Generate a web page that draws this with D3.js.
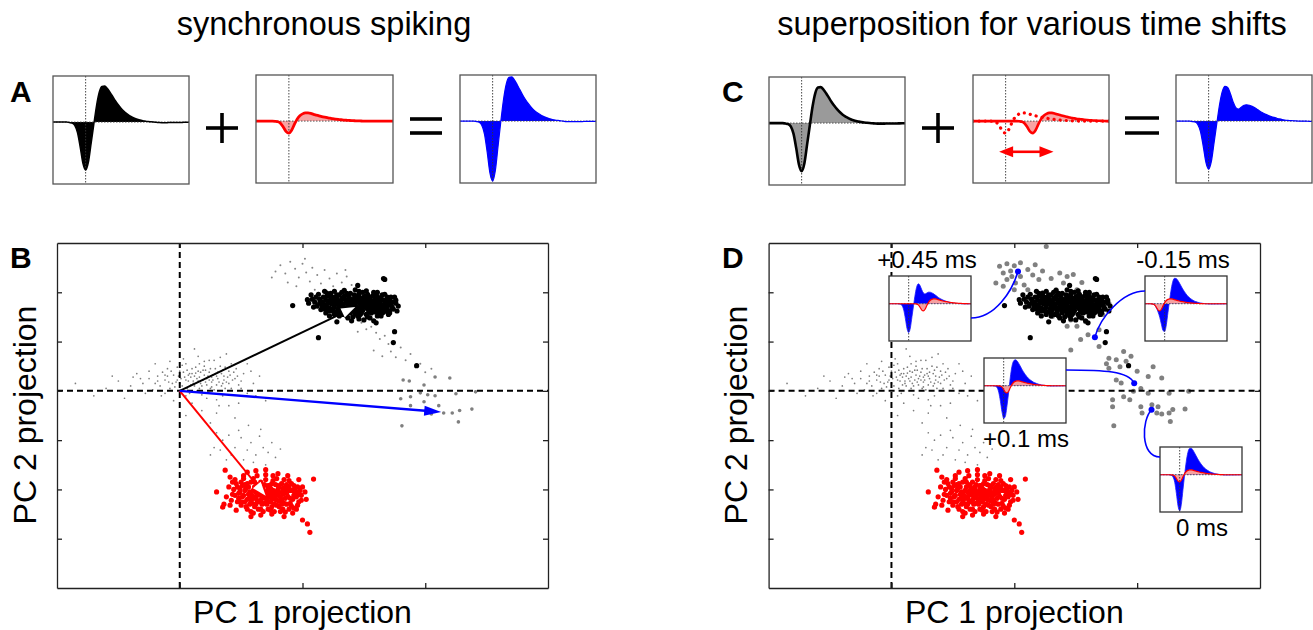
<!DOCTYPE html>
<html><head><meta charset="utf-8">
<script src="https://cdn.jsdelivr.net/npm/d3@7"></script>
<style>
body{margin:0;background:#fff}
svg{display:block}
text{font-family:"Liberation Sans",Arial,Helvetica,sans-serif;fill:#000}
</style>
</head><body>
<svg id="fig" width="1313" height="630"></svg>
<script>
// ---------------- DATA ----------------
// waveform sampling (ms)
const sampleStart = -0.6, sampleStep = 0.05;
// template of neuron 1 (black) and neuron 2 (red), normalised amplitude
const unitBlack = [0,0,0,0,0,0,-0.01,-0.02,-0.07,-0.22,-0.52,-0.86,-1.0,-0.84,-0.45,-0.05,0.34,0.62,0.74,0.75,0.70,0.62,0.53,0.44,0.36,0.29,0.23,0.18,0.14,0.11,0.08,0.06,0.045,0.03,0.02,0.012,0.006,0,-0.005,-0.01,-0.012,-0.012,-0.012,-0.01,-0.01,-0.01,-0.008,-0.008,-0.006,-0.005,-0.005];
const unitRed = [0,0,0,0,0,0,0,-0.005,-0.015,-0.05,-0.13,-0.22,-0.25,-0.19,-0.07,0.04,0.11,0.15,0.17,0.17,0.16,0.14,0.125,0.11,0.095,0.082,0.07,0.06,0.05,0.042,0.035,0.028,0.022,0.017,0.013,0.01,0.007,0.005,0.003,0,0,0,0,0,0,0,0,0,0,0,0];
const shiftC = 0.5;                 // ms, example shift in panel C
const shiftArrowC = [-0.12, 0.88];  // ms, extent of shift arrow
const insetShifts = [0.45, -0.15, 0.1, 0];
const insetLabels = ["+0.45 ms", "-0.15 ms", "+0.1 ms", "0 ms"];

// PCA projections (PC1, PC2)
const pcTicksX = [0, 1, 2];
const pcTicksY = [-3, -2, -1, 0, 1, 2];
const tipBlack = [1.43, 1.70];
const tipRed = [0.70, -2.13];
const blackCluster = [[1.10,1.80],[1.14,1.86],[1.18,1.75],[1.20,1.92],[1.22,1.68],[1.25,1.83],[1.27,1.60],[1.28,1.95],[1.30,1.72],[1.32,1.88],[1.33,1.55],[1.35,1.78],[1.36,1.98],[1.38,1.65],[1.40,1.85],[1.41,1.50],[1.43,1.74],[1.44,1.93],[1.46,1.62],[1.48,1.82],[1.49,2.00],[1.51,1.70],[1.52,1.55],[1.54,1.88],[1.55,1.76],[1.57,1.64],[1.58,1.95],[1.60,1.80],[1.61,1.52],[1.63,1.70],[1.64,1.88],[1.66,1.60],[1.67,1.78],[1.69,1.68],[1.70,1.85],[1.72,1.74],[1.15,1.65],[1.19,1.58],[1.23,1.98],[1.26,1.70],[1.29,1.80],[1.31,1.64],[1.34,1.92],[1.37,1.72],[1.39,1.58],[1.42,1.95],[1.45,1.68],[1.47,1.55],[1.50,1.90],[1.53,1.66],[1.56,1.82],[1.59,1.72],[1.62,1.60],[1.65,1.95],[1.68,1.72],[1.12,1.72],[1.17,1.90],[1.21,1.78],[1.24,1.62],[1.28,1.87],[1.32,1.76],[1.35,1.62],[1.38,1.90],[1.41,1.77],[1.44,1.60],[1.47,1.88],[1.50,1.76],[1.53,1.96],[1.56,1.58],[1.59,1.86],[1.62,1.76],[1.65,1.66],[1.68,1.82],[1.71,1.62],[1.08,1.86],[1.13,1.96],[1.16,1.80],[1.20,1.70],[1.23,1.87],[1.27,1.76],[1.30,1.95],[1.33,1.69],[1.36,1.84],[1.39,1.73],[1.42,1.64],[1.45,1.80],[1.48,1.70],[1.51,1.84],[1.54,1.72],[1.57,1.92],[1.60,1.66],[1.63,1.82],[1.66,1.74],[1.69,1.90],[1.73,1.80],[1.26,2.02],[1.34,2.04],[1.43,2.05],[1.52,2.03],[1.61,2.00],[1.30,1.52],[1.37,1.48],[1.46,1.46],[1.55,1.48],[1.64,1.52],[1.74,1.66],[1.76,1.78],[1.05,1.78],[1.07,1.95],[1.18,2.02],[1.22,1.52],[1.40,1.42],[1.50,1.44],[1.58,1.42],[1.70,1.55],[1.75,1.90],[0.92,1.73],[1.04,1.85],[1.13,1.08],[1.66,2.28],[1.74,0.98],[1.75,1.20],[1.60,1.38],[1.28,1.40],[1.45,2.14],[1.78,1.72],[1.67,2.26],[1.93,0.51],
[1.16,1.72],[1.19,1.84],[1.21,1.62],[1.24,1.76],[1.26,1.90],[1.29,1.66],[1.31,1.82],[1.33,1.74],[1.36,1.68],[1.37,1.94],[1.40,1.62],[1.42,1.86],[1.44,1.70],[1.46,1.95],[1.49,1.63],[1.50,1.80],[1.52,1.74],[1.55,1.90],[1.57,1.70],[1.59,1.60],[1.61,1.92],[1.63,1.64],[1.66,1.84],[1.68,1.62],[1.70,1.76],[1.72,1.90],[1.18,1.66],[1.23,1.93],[1.27,1.84],[1.30,1.58],[1.34,1.86],[1.38,1.80],[1.41,1.68],[1.43,1.56],[1.47,1.76],[1.51,1.92],[1.54,1.60],[1.58,1.78],[1.61,1.86],[1.64,1.74],[1.67,1.66],[1.71,1.84],[1.14,1.78],[1.22,1.82],[1.25,1.66],[1.35,1.56],[1.39,1.98],[1.48,1.58],[1.53,1.82],[1.56,1.68],[1.62,1.68],[1.65,1.58],[1.69,1.80],[1.73,1.70],[1.11,1.90],[1.09,1.70],[1.20,1.98],[1.32,2.00],[1.46,2.02],[1.58,2.00],[1.67,1.96],[1.76,1.84],[1.77,1.62],[1.26,1.55],[1.36,1.52],[1.45,1.52],[1.53,1.50],[1.63,1.56],[1.71,1.58],[1.42,1.80],[1.45,1.88],[1.38,1.86],[1.48,1.66],[1.55,1.64],[1.60,1.74]];
const redCluster = [[0.40,-1.95],[0.43,-2.10],[0.45,-1.80],[0.47,-2.25],[0.49,-1.98],[0.51,-2.15],[0.52,-1.72],[0.54,-2.35],[0.55,-1.88],[0.57,-2.05],[0.58,-2.22],[0.60,-1.78],[0.61,-1.95],[0.63,-2.12],[0.64,-2.40],[0.66,-1.85],[0.67,-2.02],[0.69,-2.28],[0.70,-1.70],[0.72,-1.92],[0.73,-2.15],[0.75,-2.35],[0.76,-1.82],[0.78,-2.05],[0.79,-2.22],[0.81,-1.95],[0.82,-2.45],[0.84,-2.10],[0.85,-1.80],[0.87,-2.30],[0.88,-2.00],[0.90,-2.18],[0.91,-1.88],[0.93,-2.38],[0.94,-2.08],[0.96,-1.95],[0.97,-2.25],[0.99,-2.12],[0.44,-2.00],[0.46,-1.88],[0.48,-2.18],[0.50,-2.32],[0.53,-2.02],[0.56,-1.95],[0.59,-2.12],[0.62,-2.30],[0.65,-1.98],[0.68,-2.15],[0.71,-2.05],[0.74,-1.98],[0.77,-2.30],[0.80,-2.12],[0.83,-1.88],[0.86,-2.18],[0.89,-2.40],[0.92,-2.02],[0.95,-2.15],[0.98,-2.02],[0.42,-2.22],[0.50,-1.85],[0.55,-2.20],[0.58,-2.45],[0.62,-2.05],[0.66,-2.22],[0.69,-1.90],[0.72,-2.40],[0.75,-2.08],[0.78,-1.90],[0.81,-2.35],[0.84,-1.98],[0.87,-2.08],[0.90,-2.28],[0.93,-1.92],[0.96,-2.32],[0.60,-2.18],[0.64,-1.92],[0.68,-2.05],[0.71,-2.22],[0.74,-2.25],[0.77,-2.15],[0.80,-2.00],[0.83,-2.22],[0.86,-1.95],[0.70,-2.10],[0.73,-2.02],[0.76,-2.18],[0.79,-2.08],[0.66,-2.12],[0.63,-2.22],[0.57,-2.30],[0.53,-1.90],[0.48,-2.08],[0.38,-2.15],[0.36,-2.30],[0.41,-1.75],[0.55,-1.65],[0.62,-1.62],[0.70,-1.60],[0.80,-1.68],[0.88,-1.72],[0.97,-1.80],[1.02,-2.05],[1.03,-2.20],[0.58,-2.55],[0.66,-2.52],[0.75,-2.50],[0.85,-2.55],[0.92,-2.48],[0.37,-1.61],[0.35,-2.36],[1.06,-2.87],[1.04,-2.70],[1.09,-1.79],[0.30,-2.05],[1.00,-2.62],
[0.49,-2.05],[0.51,-1.92],[0.53,-2.25],[0.56,-2.10],[0.58,-1.85],[0.60,-2.02],[0.61,-2.35],[0.63,-1.90],[0.65,-2.08],[0.67,-2.30],[0.68,-1.95],[0.70,-2.18],[0.72,-1.98],[0.74,-2.12],[0.75,-1.88],[0.77,-2.05],[0.79,-2.32],[0.80,-1.92],[0.82,-2.16],[0.84,-2.04],[0.85,-2.28],[0.87,-1.90],[0.88,-2.14],[0.90,-2.02],[0.91,-2.34],[0.93,-2.12],[0.95,-2.05],[0.52,-2.12],[0.54,-1.98],[0.57,-2.16],[0.59,-2.28],[0.62,-2.15],[0.64,-2.02],[0.67,-2.18],[0.69,-2.04],[0.71,-2.30],[0.73,-1.92],[0.76,-2.02],[0.78,-2.20],[0.81,-2.06],[0.83,-2.30],[0.86,-2.02],[0.89,-1.96],[0.92,-2.20],[0.94,-1.98],[0.97,-2.10],[0.45,-2.12],[0.47,-1.95],[0.50,-2.25],[0.55,-2.40],[0.61,-1.85],[0.66,-2.40],[0.70,-1.80],[0.74,-2.42],[0.79,-1.78],[0.84,-2.40],[0.89,-1.82],[0.95,-2.40],[0.99,-2.22],[1.00,-1.95],[0.43,-1.85],[0.41,-2.32],[0.46,-2.42],[0.52,-1.78],[0.60,-2.48],[0.68,-2.45],[0.77,-2.45],[0.86,-2.46],[0.63,-1.72],[0.76,-1.72],[0.72,-2.08],[0.75,-2.20],[0.78,-2.12],[0.81,-2.24],[0.65,-2.25]];
const noiseCluster = [[-0.40,0.10],[-0.32,0.25],[-0.28,-0.05],[-0.25,0.40],[-0.20,0.15],[-0.18,0.30],[-0.15,-0.10],[-0.12,0.22],[-0.10,0.45],[-0.08,0.05],[-0.05,0.32],[-0.03,0.18],[0.00,0.40],[0.02,0.10],[0.04,0.28],[0.05,0.55],[0.07,0.20],[0.08,-0.05],[0.10,0.35],[0.11,0.15],[0.13,0.48],[0.14,0.25],[0.16,0.05],[0.17,0.38],[0.19,0.22],[0.20,0.60],[0.22,0.12],[0.23,0.30],[0.25,0.45],[0.26,0.18],[0.28,0.02],[0.29,0.35],[0.31,0.25],[0.33,0.50],[0.34,0.10],[0.36,0.30],[0.38,0.18],[0.40,0.40],[0.42,0.05],[0.45,0.25],[0.48,0.12],[0.52,0.35],[-0.35,0.35],[-0.22,0.02],[-0.14,0.38],[-0.06,0.15],[0.01,0.25],[0.06,0.42],[0.09,0.12],[0.12,0.30],[0.15,0.20],[0.18,0.10],[0.21,0.42],[0.24,0.22],[0.27,0.32],[0.30,0.12],[0.35,0.42],[0.39,0.28],[0.44,0.38],[0.50,0.20],[0.03,0.65],[0.15,0.70],[0.28,0.62],[-0.05,-0.20],[0.10,-0.25],[0.22,-0.15],[0.35,-0.10],[0.40,-0.30],[0.55,-0.05],[0.60,0.15],[-0.50,0.20],[-0.60,0.05],[-0.45,-0.15],[0.18,-0.40],[0.30,-0.45],[0.45,-0.55],[0.05,-0.50],[0.25,-0.65],[0.12,0.85],[0.38,0.75],[-0.20,0.55],[0.65,0.30],[0.70,-0.20],[-0.70,-0.10],[-0.85,0.15],[0.55,0.55],[0.48,-0.25],[0.32,-0.30],[0.20,0.50],[0.08,0.35],[0.14,0.00],[0.26,0.08],[0.37,0.05],[-0.10,0.30],[-0.02,0.48],[0.30,-0.85],[0.35,-1.00],[0.40,-0.90],[0.45,-1.15],[0.50,-0.95],[0.55,-1.20],[0.58,-1.05],[0.62,-1.30],[0.65,-0.92],[0.68,-1.15],[0.72,-1.25],[0.75,-1.05],[0.78,-1.35],[0.42,-1.30],[0.52,-1.40],[0.60,-1.45],[0.70,-1.50],[0.28,-1.15],[0.48,-0.80],[0.82,-1.18],[0.38,-1.40],[0.66,-0.78],[0.56,-0.70],[0.25,-1.30],[0.33,-1.20],
[-0.18,0.20],[-0.16,0.10],[-0.12,0.32],[-0.09,0.18],[-0.07,0.40],[-0.04,0.08],[-0.01,0.30],[0.00,0.15],[0.03,0.38],[0.05,0.22],[0.06,0.05],[0.09,0.28],[0.10,0.45],[0.12,0.10],[0.13,0.36],[0.16,0.28],[0.17,0.15],[0.19,0.42],[0.20,0.32],[0.22,0.25],[0.24,0.38],[0.25,0.05],[0.27,0.22],[0.29,0.45],[0.30,0.30],[0.32,0.18],[0.34,0.35],[0.36,0.22],[0.37,0.48],[0.40,0.15],[0.41,0.32],[0.43,0.22],[0.46,0.45],[0.47,0.30],[0.50,0.05],[-0.25,0.25],[-0.30,0.15],[-0.38,0.28],[-0.42,0.00],[-0.55,0.30],[0.58,0.40],[0.62,-0.10],[0.05,-0.10],[0.18,-0.08],[0.30,-0.18],[-0.12,-0.05],[0.02,0.52],[0.16,0.55],[0.24,0.62],[0.42,0.55],[-0.08,0.60],[0.33,0.68],[0.11,0.20],[0.21,0.18],[0.31,0.38],[0.07,0.32],[0.26,0.28],[0.35,0.15],[-0.02,0.22],[0.15,0.40]];
// panel B: overlapping (mis-assigned) spikes, small grey
const overlapSmallB = [[0.78,2.42],[0.82,2.55],[0.86,2.38],[0.90,2.62],[0.94,2.48],[0.97,2.30],[1.00,2.58],[1.03,2.40],[1.06,2.22],[1.08,2.50],[1.12,2.35],[1.15,2.18],[1.18,2.45],[1.22,2.28],[1.25,2.12],[1.28,2.38],[1.32,2.20],[1.36,2.32],[1.40,2.15],[0.88,2.20],[0.95,2.12],[1.02,2.68],[0.75,2.30],[1.10,2.05],[1.20,2.02],[1.35,2.45],[1.48,1.38],[1.52,1.25],[1.56,1.30],[1.60,1.18],[1.63,1.05],[1.67,1.12],[1.70,0.95],[1.72,0.80],[1.76,0.68],[1.80,0.88],[1.84,0.62],[1.88,0.75],[1.92,0.48],[1.96,0.55],[2.00,0.38],[2.05,0.45],[1.58,0.82],[1.65,0.70],[1.45,1.20]];
// panel B: synchronous overlaps, larger grey
const overlapSyncB = [[1.82,0.22],[1.87,0.20],[2.08,0.28],[2.20,0.26],[1.99,0.12],[1.96,-0.04],[2.02,-0.08],[2.08,-0.10],[1.88,-0.12],[1.80,-0.16],[2.25,-0.06],[2.41,-0.02],[1.88,-0.30],[2.11,-0.30],[2.15,-0.45],[2.22,-0.45],[2.28,-0.40],[2.38,-0.37],[2.05,-0.47],[2.27,-0.63],[1.81,-0.71],[1.99,-0.22]];
// panel D: overlaps with various time shifts
const overlapShiftD = [[0.88,2.53],[0.94,2.58],[1.00,2.54],[0.91,2.39],[0.97,2.43],[0.85,2.19],[0.91,2.12],[1.05,2.32],[1.11,2.46],[1.17,2.56],[1.23,2.43],[1.20,2.26],[1.26,2.93],[1.37,2.39],[1.43,2.32],[1.48,2.36],[1.40,2.19],[1.34,2.05],[1.11,2.05],[1.00,2.05],[0.94,2.26],[1.01,2.19],[1.77,1.78],[1.46,1.44],[1.51,1.31],[1.60,1.14],[1.54,1.04],[1.69,1.24],[1.46,0.83],[1.69,0.90],[1.77,0.66],[1.83,0.63],[1.89,0.80],[1.91,0.60],[1.86,0.49],[1.77,0.46],[1.83,0.22],[1.87,0.16],[1.97,-0.01],[2.03,0.05],[2.09,-0.05],[2.13,0.49],[2.09,0.29],[2.20,0.26],[2.26,-0.05],[2.42,-0.01],[1.80,-0.18],[1.89,-0.12],[1.94,-0.18],[1.80,-0.32],[2.03,-0.32],[2.12,-0.28],[2.17,-0.32],[2.26,-0.45],[2.29,-0.38],[2.39,-0.37],[2.16,-0.45],[2.20,-0.47],[1.81,-0.71],[2.27,-0.62],[2.04,-0.45],[1.23,1.99],[1.51,2.05],[1.69,1.88],[1.43,1.31],[1.31,1.51],[1.05,2.60],[1.15,2.35],[1.30,2.28],[0.98,2.32],[1.08,2.15],[1.55,2.20],[1.62,1.95],[1.72,1.55],[1.58,1.40],[1.95,0.70],[1.75,0.55],[2.00,0.40]];
// projections of the four example shifts (same order as insetShifts)
const shiftPoints = [[1.03,2.42],[1.656,1.09],[1.976,0.156],[2.117,-0.385]];

// ---------------- LAYOUT ----------------
const svg = d3.select("#fig");
svg.append("rect").attr("width",1313).attr("height",630).attr("fill","#fff");
const N = unitBlack.length;
const times = unitBlack.map((_, i) => sampleStart + i * sampleStep);
const tDomain = [times[0], times[N - 1]];
const ampDomain = [-1.29, 0.96];

function shifted(arr, ms) {
  const n = Math.round(ms / sampleStep);
  return arr.map((_, i) => { const j = i - n; return (j >= 0 && j < arr.length) ? arr[j] : 0; });
}
function addW(a, b) { return a.map((v, i) => v + b[i]); }

let clipN = 0;
function waveBox(box, layers, frameColor) {
  const g = svg.append("g");
  const xs = d3.scaleLinear().domain(tDomain).range([box.x, box.x + box.w]);
  const ys = d3.scaleLinear().domain(ampDomain).range([box.y + box.h, box.y]);
  const id = "wc" + (clipN++);
  g.append("clipPath").attr("id", id).append("rect")
    .attr("x", box.x).attr("y", box.y).attr("width", box.w).attr("height", box.h);
  g.append("rect").attr("x", box.x).attr("y", box.y).attr("width", box.w).attr("height", box.h).attr("fill", "#fff");
  const inner = g.append("g").attr("clip-path", `url(#${id})`);
  const area = d3.area().x((d, i) => xs(times[i])).y0(ys(0)).y1(d => ys(d)).curve(d3.curveMonotoneX);
  const line = d3.line().x((d, i) => xs(times[i])).y(d => ys(d)).curve(d3.curveMonotoneX);
  layers.forEach(L => {
    if (L.fill) inner.append("path").attr("d", area(L.values)).attr("fill", L.fill);
    if (L.guides) {
      inner.append("line").attr("x1", xs(0)).attr("x2", xs(0)).attr("y1", box.y).attr("y2", box.y + box.h)
        .attr("stroke", "#333").attr("stroke-width", 0.9).attr("stroke-dasharray", "1.5,1.5");
      inner.append("line").attr("x1", box.x).attr("x2", box.x + box.w).attr("y1", ys(0)).attr("y2", ys(0))
        .attr("stroke", "#444").attr("stroke-width", 0.9).attr("stroke-dasharray", "1.5,1.5");
    }
    if (L.stroke) inner.append("path").attr("d", line(L.values)).attr("fill", "none")
      .attr("stroke", L.stroke).attr("stroke-width", L.width)
      .attr("stroke-dasharray", L.dash || null).attr("stroke-linecap", L.cap || "butt")
      .attr("stroke-linejoin", "round");
  });
  g.append("rect").attr("x", box.x).attr("y", box.y).attr("width", box.w).attr("height", box.h)
    .attr("fill", "none").attr("stroke", frameColor || "#555").attr("stroke-width", 1.3);
  return { g, xs, ys };
}

function plusSign(cx, cy, hw, hh) {
  svg.append("line").attr("x1", cx - hw).attr("x2", cx + hw).attr("y1", cy).attr("y2", cy).attr("stroke", "#000").attr("stroke-width", 3.6);
  svg.append("line").attr("x1", cx).attr("x2", cx).attr("y1", cy - hh).attr("y2", cy + hh).attr("stroke", "#000").attr("stroke-width", 3.6);
}
function equalSign(x1, x2, ya, yb) {
  [ya, yb].forEach(y => svg.append("line").attr("x1", x1).attr("x2", x2).attr("y1", y).attr("y2", y).attr("stroke", "#000").attr("stroke-width", 3.6));
}
function label(txt, x, y, size, opts = {}) {
  const t = svg.append("text").attr("x", x).attr("y", y).attr("font-size", size).text(txt);
  if (opts.bold) t.attr("font-weight", "bold");
  if (opts.anchor) t.attr("text-anchor", opts.anchor);
  if (opts.rotate) t.attr("transform", `rotate(-90,${x},${y})`);
  return t;
}

// titles and panel letters
label("synchronous spiking", 324, 35, 32.5, { anchor: "middle" });
label("superposition for various time shifts", 1032, 35, 32.5, { anchor: "middle" });
label("A", 10, 102, 30, { bold: true });
label("C", 722, 102, 30, { bold: true });
label("B", 10, 268, 30, { bold: true });
label("D", 722, 268, 30, { bold: true });

// ---------------- PANEL A ----------------
const sumSync = addW(unitBlack, unitRed);
waveBox({ x: 53, y: 76, w: 136, h: 108 }, [
  { values: unitBlack, fill: "#000" }, { guides: true },
  { values: unitBlack, stroke: "#000", width: 1.5 }]);
waveBox({ x: 256, y: 75, w: 137, h: 108 }, [
  { values: unitRed, fill: "#f8a3a3" }, { guides: true },
  { values: unitRed, stroke: "#ff0000", width: 2.8 }]);
waveBox({ x: 460, y: 75, w: 136, h: 108 }, [
  { values: sumSync, fill: "#0000ff" }, { guides: true },
  { values: sumSync, stroke: "#0000ff", width: 1.2 }]);
plusSign(222, 128, 16, 15);
equalSign(410, 442, 119, 133);

// ---------------- PANEL C ----------------
const redShiftC = shifted(unitRed, shiftC);
const sumShiftC = addW(unitBlack, redShiftC);
waveBox({ x: 769, y: 77, w: 136, h: 108 }, [
  { values: unitBlack, fill: "#9a9a9a" }, { guides: true },
  { values: unitBlack, stroke: "#000", width: 2.6 }]);
const c2 = waveBox({ x: 973, y: 75, w: 136, h: 108 }, [
  { values: redShiftC, fill: "#f8a3a3" }, { guides: true },
  { values: unitRed, stroke: "#ff0000", width: 3.2, dash: "0.1,6", cap: "round" },
  { values: redShiftC, stroke: "#ff0000", width: 2.6 }]);
waveBox({ x: 1176, y: 75, w: 136, h: 108 }, [
  { values: sumShiftC, fill: "#0000ff" }, { guides: true },
  { values: sumShiftC, stroke: "#0000ff", width: 1.2 }]);
plusSign(938, 128, 16, 15);
equalSign(1125, 1159, 118, 133);
// double headed shift arrow in C2
(function () {
  const ay = c2.ys(-0.64), xa = c2.xs(shiftArrowC[0]), xb = c2.xs(shiftArrowC[1]);
  const L = 14, W = 5.5;
  c2.g.append("line").attr("x1", xa + L - 1).attr("x2", xb - L + 1).attr("y1", ay).attr("y2", ay)
    .attr("stroke", "#ff0000").attr("stroke-width", 2.6);
  c2.g.append("path").attr("d", `M${xa},${ay}L${xa + L},${ay - W}L${xa + L},${ay + W}Z`).attr("fill", "#ff0000");
  c2.g.append("path").attr("d", `M${xb},${ay}L${xb - L},${ay - W}L${xb - L},${ay + W}Z`).attr("fill", "#ff0000");
})();

// ---------------- PC PANELS ----------------
function pcPanel(fr) {
  const x = d3.scaleLinear().domain([-1, 3]).range([fr.x0, fr.x1]);
  const y = d3.scaleLinear().domain([-4, 3]).range([fr.y1, fr.y0]);
  const g = svg.append("g");
  const id = "pc" + (clipN++);
  g.append("clipPath").attr("id", id).append("rect").attr("x", fr.x0).attr("y", fr.y0)
    .attr("width", fr.x1 - fr.x0).attr("height", fr.y1 - fr.y0);
  const inner = g.append("g").attr("clip-path", `url(#${id})`);
  return { g, inner, x, y, fr };
}
function pcAxes(p) {
  const { x, y, fr } = p;
  const axes = [
    [d3.axisBottom(x).tickValues(pcTicksX), `translate(0,${fr.y1})`],
    [d3.axisTop(x).tickValues(pcTicksX), `translate(0,${fr.y0})`],
    [d3.axisLeft(y).tickValues(pcTicksY), `translate(${fr.x0},0)`],
    [d3.axisRight(y).tickValues(pcTicksY), `translate(${fr.x1},0)`]];
  axes.forEach(([ax, tr]) => {
    const a = p.g.append("g").attr("transform", tr)
      .call(ax.tickSizeInner(-5).tickSizeOuter(0).tickFormat(""));
    a.selectAll("path,line").attr("stroke", "#222").attr("stroke-width", 1.3);
  });
}
function dashes(p) {
  p.inner.append("line").attr("x1", p.x(-1)).attr("x2", p.x(3)).attr("y1", p.y(0)).attr("y2", p.y(0))
    .attr("stroke", "#000").attr("stroke-width", 2).attr("stroke-dasharray", "6,4");
  p.inner.append("line").attr("x1", p.x(0)).attr("x2", p.x(0)).attr("y1", p.y(-4)).attr("y2", p.y(3))
    .attr("stroke", "#000").attr("stroke-width", 2).attr("stroke-dasharray", "6,4");
}
function dots(p, pts, r, color) {
  p.inner.append("g").selectAll("circle").data(pts).join("circle")
    .attr("cx", d => p.x(d[0])).attr("cy", d => p.y(d[1])).attr("r", r).attr("fill", color);
}
function arrow(p, tip, color, headFill, L, W, width) {
  const x1 = p.x(0), y1 = p.y(0), x2 = p.x(tip[0]), y2 = p.y(tip[1]);
  const len = Math.hypot(x2 - x1, y2 - y1), ux = (x2 - x1) / len, uy = (y2 - y1) / len;
  const bx = x2 - ux * L, by = y2 - uy * L;
  p.inner.append("line").attr("x1", x1).attr("y1", y1).attr("x2", bx + ux).attr("y2", by + uy)
    .attr("stroke", color).attr("stroke-width", width);
  p.inner.append("path").attr("d", `M${x2},${y2}L${bx - uy * W},${by + ux * W}L${bx + uy * W},${by - ux * W}Z`)
    .attr("fill", headFill);
}

// panel B
const pB = pcPanel({ x0: 57, x1: 548, y0: 243, y1: 588 });
dots(pB, noiseCluster, 0.85, "#7d7d7d");
dots(pB, overlapSmallB, 1.0, "#858585");
dots(pB, blackCluster, 2.6, "#000");
dots(pB, redCluster, 2.6, "#ff0000");
dots(pB, overlapSyncB, 1.8, "#7f7f7f");
dashes(pB);
const tipBlue = [tipBlack[0] + tipRed[0], tipBlack[1] + tipRed[1]];
arrow(pB, tipBlack, "#000", "#fff", 14, 5, 2);
arrow(pB, tipRed, "#ff0000", "#fff", 14, 5, 2);
arrow(pB, tipBlue, "#0000ff", "#0000ff", 17, 5, 2.4);
pcAxes(pB);
label("PC 1 projection", 302.5, 623, 32, { anchor: "middle" });
label("PC 2 projection", 35.5, 415, 32, { anchor: "middle", rotate: true });

// panel D
const pD = pcPanel({ x0: 768.6, x1: 1260, y0: 243, y1: 588 });
dots(pD, noiseCluster, 0.85, "#7d7d7d");
dots(pD, overlapShiftD, 2.5, "#808080");
dots(pD, blackCluster, 2.6, "#000");
dots(pD, redCluster, 2.6, "#ff0000");
dashes(pD);
pcAxes(pD);
label("PC 1 projection", 1014.3, 623, 32, { anchor: "middle" });
label("PC 2 projection", 747, 415, 32, { anchor: "middle", rotate: true });

// insets with connectors
const insetLayout = [
  { x: 889, y: 276, side: "right", ay: 42, c1: 24, c2: [-6, 20], labelPos: "above" },
  { x: 1145, y: 276, side: "left", ay: 15, c1: -23, c2: [5, -19], labelPos: "above" },
  { x: 984, y: 358, side: "right", ay: 12, c1: 38, c2: [-6, -12], labelPos: "below" },
  { x: 1160, y: 447, side: "left", ay: 10, c1: -20, c2: [-10, 10], labelPos: "below" }];
const insetW = 82, insetH = 65;
insetShifts.forEach((s, k) => {
  const L = insetLayout[k];
  const red = shifted(unitRed, s), sum = addW(unitBlack, red);
  waveBox({ x: L.x, y: L.y, w: insetW, h: insetH }, [
    { values: sum, fill: "#0000ff" },
    { values: sum, stroke: "#1a1aff", width: 0.8 },
    { values: red, fill: "#f6a0a0" }, { guides: true },
    { values: red, stroke: "#ff0000", width: 1.2 }], "#333");
  const cx = L.x + insetW / 2;
  if (L.labelPos === "above") label(insetLabels[k], cx - 3, L.y - 8, 24, { anchor: "middle" });
  else label(insetLabels[k], cx + 1, L.y + insetH + 24, 24, { anchor: "middle" });
  const p0 = [L.side === "right" ? L.x + insetW : L.x, L.y + L.ay];
  const p3 = [pD.x(shiftPoints[k][0]), pD.y(shiftPoints[k][1])];
  const path = d3.path();
  path.moveTo(p0[0], p0[1]);
  path.bezierCurveTo(p0[0] + L.c1, p0[1], p3[0] + L.c2[0], p3[1] + L.c2[1], p3[0], p3[1]);
  svg.append("path").attr("d", path.toString()).attr("fill", "none").attr("stroke", "#0000ff").attr("stroke-width", 1.6);
});
svg.append("g").selectAll("circle").data(shiftPoints).join("circle")
  .attr("cx", d => pD.x(d[0])).attr("cy", d => pD.y(d[1])).attr("r", 3).attr("fill", "#0000ff");
</script>
</body></html>
